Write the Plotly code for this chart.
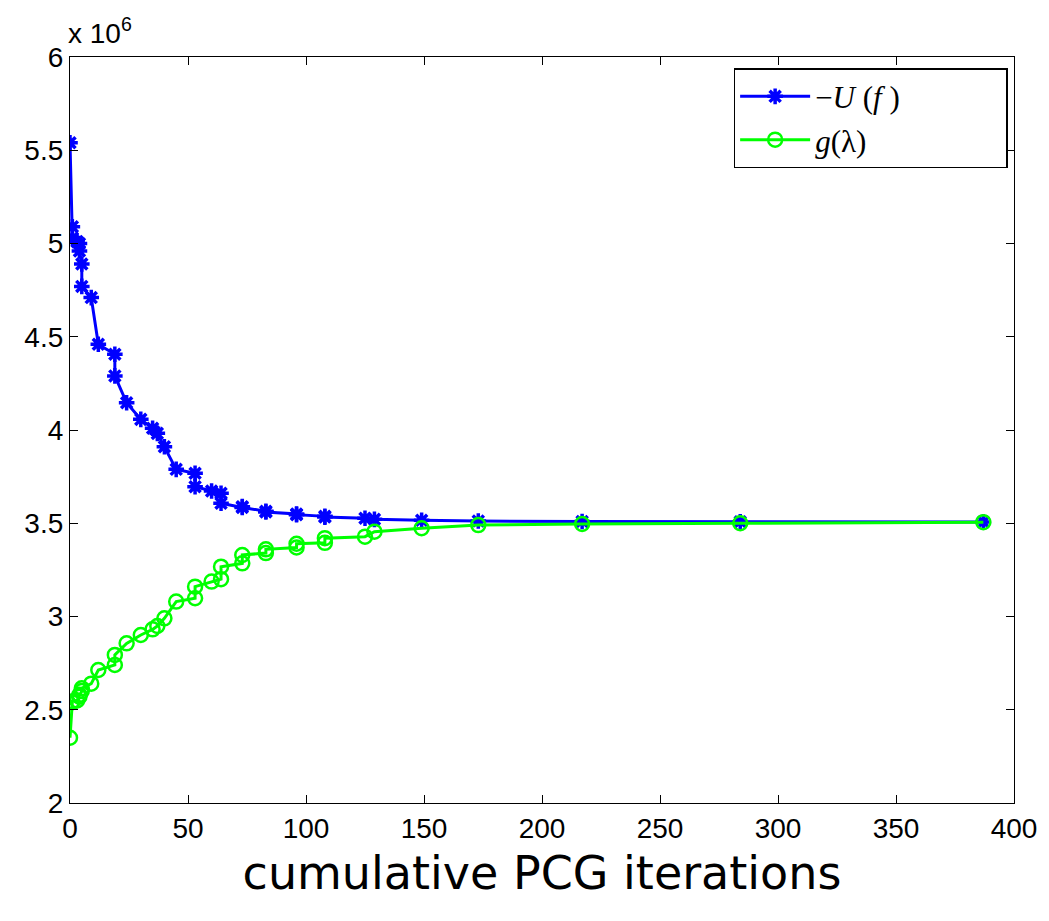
import plotly.graph_objects as go

# cumulative PCG iterations
iters = [0, 1, 1, 3, 4, 4, 5, 5, 9, 12, 19, 19, 24, 30, 35, 37, 40, 45, 53, 53,
         60, 64, 64, 73, 73, 83, 83, 96, 96, 108, 108, 125, 129, 149, 173, 217, 284, 387]
# -U(f), in units of 1e6
neg_U = [5.54, 5.09, 5.03, 5.01, 5.00, 4.96, 4.89, 4.77, 4.71, 4.46, 4.406, 4.29, 4.146,
         4.057, 4.009, 3.982, 3.91, 3.789, 3.768, 3.696, 3.673, 3.661, 3.607, 3.589, 3.585,
         3.564, 3.560, 3.550, 3.546, 3.537, 3.533, 3.527, 3.521, 3.516, 3.512, 3.509, 3.508, 3.507]
# g(lambda), in units of 1e6
g_lam = [2.35, 2.54, 2.545, 2.55, 2.58, 2.57, 2.60, 2.615, 2.64, 2.713, 2.74, 2.794, 2.856,
         2.901, 2.931, 2.949, 2.99, 3.08, 3.098, 3.16, 3.187, 3.20, 3.267, 3.285, 3.33,
         3.34, 3.36, 3.37, 3.39, 3.395, 3.42, 3.428, 3.455, 3.473, 3.49, 3.496, 3.50, 3.506]

x_ticks = [0, 50, 100, 150, 200, 250, 300, 350, 400]
y_ticks = [2, 2.5, 3, 3.5, 4, 4.5, 5, 5.5, 6]

pad = "\u00a0" * 13

fig = go.Figure()
fig.add_trace(go.Scatter(
    x=iters, y=neg_U, mode="lines+markers", name="−<i>U</i> (<i>f</i> )" + pad,
    line=dict(color="#0000ff", width=3),
    marker=dict(symbol="asterisk-open", size=13, color="#0000ff",
                line=dict(color="#0000ff", width=3.5)),
))
fig.add_trace(go.Scatter(
    x=iters, y=g_lam, mode="lines+markers", name="<i>g</i>(λ)",
    line=dict(color="#00ff00", width=3),
    marker=dict(symbol="circle-open", size=14, color="#00ff00",
                line=dict(color="#00ff00", width=2.5)),
))

axis_common = dict(
    showgrid=False, zeroline=False, showline=True, linecolor="black", linewidth=1.2,
    mirror="ticks", ticks="inside", ticklen=8, tickcolor="black", tickwidth=1,
    tickfont=dict(family="Liberation Sans, Arial, sans-serif", size=28, color="black"),
)

fig.update_layout(
    width=1041, height=913,
    paper_bgcolor="white", plot_bgcolor="white",
    margin=dict(l=62, r=32, t=49, b=118),
    showlegend=True,
    legend=dict(
        x=0.703, y=0.985, xanchor="left", yanchor="top",
        bgcolor="white", bordercolor="black", borderwidth=1.5,
        font=dict(family="Liberation Serif, Times New Roman, serif", size=31, color="black"),
        itemwidth=70, tracegroupgap=0,
    ),
    xaxis=dict(range=[0, 400], tickvals=x_ticks,
               title=dict(text="cumulative PCG iterations", standoff=14,
                          font=dict(family="DejaVu Sans, sans-serif", size=46, color="black")),
               **axis_common),
    yaxis=dict(range=[2, 6], tickvals=y_ticks, **axis_common),
    annotations=[dict(
        text="x 10<sup>6</sup>", xref="paper", yref="paper", x=0.0, y=1.0,
        xanchor="left", yanchor="bottom", showarrow=False, yshift=6, xshift=-4,
        font=dict(family="Liberation Sans, Arial, sans-serif", size=28, color="black"),
    )],
)

fig.write_html("out.html")
